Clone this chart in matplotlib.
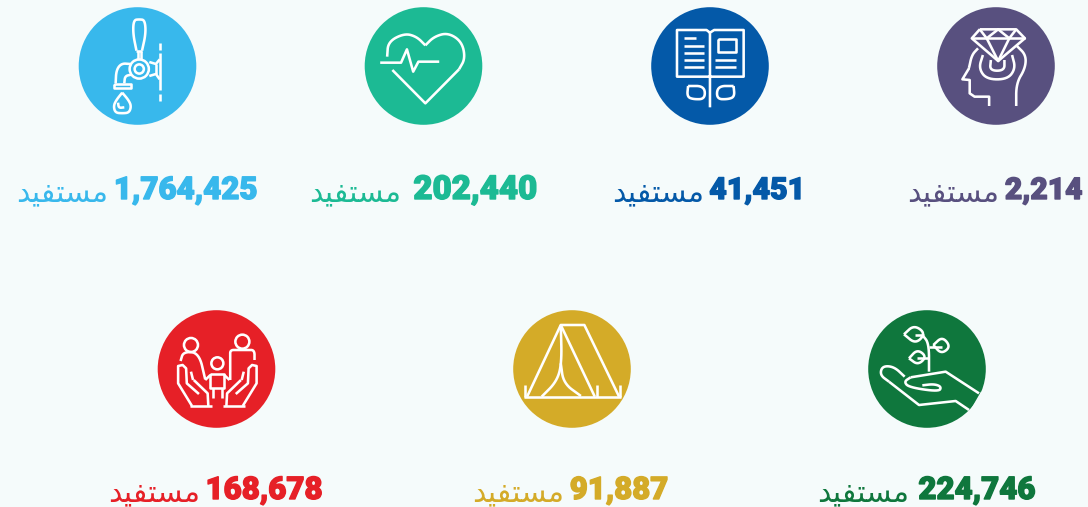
import matplotlib
matplotlib.use("Agg")
import matplotlib.pyplot as plt
import matplotlib.patheffects as pe
from matplotlib.patches import Circle

BG = "#F5FBFB"
WORD = "\uFEAA\uFEF4\uFED4\uFE98\uFEB4\uFEE3"  # mustafid, shaped and in visual order

values = ["1,764,425", "202,440", "41,451", "2,214", "168,678", "91,887", "224,746"]
colors = ["#38B8EC", "#1CBA94", "#0459A8", "#58507F", "#E62027", "#D4AB28", "#0F773D"]
circle_x = [137.5, 423.5, 710, 996, 216.5, 572, 927]
circle_y = [66, 66, 66, 66, 369, 369, 369]
word_left = [16.5, 309.5, 612.5, 907.5, 108.5, 472.5, 817.5]
value_right = [257, 537, 805, 1083, 322, 668, 1035]
value_size = [22.5, 23.8, 21.8, 21.6, 22.5, 22.4, 22.5]
baseline = [199, 199, 199, 199, 499, 499, 499]

fig = plt.figure(figsize=(10.88, 5.07), dpi=100, facecolor=BG)
ax = fig.add_axes([0, 0, 1, 1])
ax.set_xlim(0, 1088)
ax.set_ylim(507, 0)
ax.axis("off")


def smooth(pts, n=3):
    for _ in range(n):
        new = [pts[0]]
        for a, b in zip(pts[:-1], pts[1:]):
            new.append((0.75 * a[0] + 0.25 * b[0], 0.75 * a[1] + 0.25 * b[1]))
            new.append((0.25 * a[0] + 0.75 * b[0], 0.25 * a[1] + 0.75 * b[1]))
        new.append(pts[-1])
        pts = new
    return pts


def draw(lines, rings, ox, oy, sx, sy):
    for ln in lines:
        curved = ln[0] == "c"
        pts = ln[1:] if curved else ln
        if curved:
            pts = smooth(pts)
        ax.plot([ox + p[0] / sx for p in pts], [oy + p[1] / sy for p in pts],
                color="white", lw=1.85, solid_capstyle="butt", solid_joinstyle="round", zorder=3)
    for cx, cy, r in rings:
        ax.add_patch(Circle((ox + cx / sx, oy + cy / sy), r, fill=False, ec="white", lw=1.85, zorder=3))


tap = [
    ["c", (393, 152), (383, 100), (385, 60), (401, 58), (417, 60), (420, 100), (409, 152)],
    [(393, 152), (409, 152)],
    [(396, 152), (396, 180)], [(407, 152), (407, 180)],
    [(460, 130), (460, 150)], [(460, 160), (460, 270)], [(460, 282), (460, 302)],
    [(430, 186), (449, 192), (460, 178)], [(430, 228), (449, 222), (460, 238)], [(449, 192), (449, 222)],
    ["c", (375, 192), (350, 190), (335, 210), (333, 250)],
    ["c", (378, 224), (360, 228), (358, 250)],
    [(328, 251), (378, 251), (378, 264), (328, 264), (328, 251)],
    ["c", (352, 278), (335, 300), (327, 318), (332, 338), (352, 340), (372, 338), (378, 318), (370, 300), (352, 278)],
    ["c", (340, 308), (342, 324), (358, 322)],
]
heart = [
    ["c", (1115, 170), (1118, 125), (1165, 100), (1200, 110), (1225, 136)],
    ["c", (1225, 136), (1250, 110), (1290, 98), (1330, 125), (1340, 175), (1322, 208)],
    [(1322, 208), (1225, 310), (1130, 210)],
    [(1095, 188), (1155, 188), (1172, 148), (1190, 215), (1205, 185), (1265, 185)],
]
book = [
    [(478, 98), (468, 90), (383, 90), (383, 230), (575, 230), (575, 90), (490, 90), (478, 98), (478, 322)],
    [(403, 115), (438, 115)], [(403, 137), (462, 137)], [(403, 158), (462, 158)],
    [(403, 180), (462, 180)], [(403, 201), (462, 201)],
    [(500, 118), (552, 118), (552, 155), (500, 155), (500, 118)],
    [(492, 180), (553, 180)], [(492, 201), (553, 201)],
    ["c", (415, 258), (462, 258), (464, 297), (430, 298), (412, 290), (415, 258)],
    ["c", (546, 258), (500, 258), (497, 297), (530, 298), (549, 290), (546, 258)],
]
head = [
    [(1255, 88), (1360, 88), (1385, 115), (1308, 183), (1232, 115), (1255, 88)],
    [(1232, 115), (1385, 115)],
    [(1255, 88), (1275, 115), (1308, 88), (1340, 115), (1360, 88)],
    [(1275, 115), (1308, 183), (1340, 115)],
    ["c", (1250, 145), (1232, 165), (1224, 205), (1222, 205)],
    [(1224, 205), (1205, 238), (1226, 240), (1226, 280), (1240, 290), (1282, 290), (1282, 318)],
    ["c", (1360, 318), (1360, 250), (1386, 205), (1388, 165), (1362, 138)],
    ["c", (1264, 165), (1252, 205), (1275, 238), (1335, 238), (1358, 205), (1348, 165)],
    ["c", (1287, 180), (1284, 212), (1326, 212), (1326, 180)],
]
hand_l = [
    [(258, 318), (322, 318)],
    [(312, 318), (310, 280), (270, 240)],
    [(265, 318), (225, 250), (225, 198), (238, 195), (248, 205), (250, 250), (285, 282)],
    [(262, 215), (268, 240)],
]
hand_r = [[(676 - p[0], p[1]) for p in ln] for ln in hand_l]
family = hand_l + hand_r + [
    ["c", (232, 183), (240, 155), (285, 158), (303, 238)],
    ["c", (375, 240), (375, 170), (375, 150), (395, 150), (425, 150), (445, 150), (445, 180)],
    [(318, 223), (358, 223), (358, 265), (318, 265), (318, 223)],
    [(303, 240), (318, 225)], [(373, 240), (358, 225)],
    [(325, 265), (325, 295)], [(352, 265), (352, 295)],
]
family_rings = [(262, 135, 7), (410, 125, 7), (338, 190, 6)]
tent = [
    [(1230, 290), (1327, 75), (1395, 75), (1495, 290)],
    [(1327, 75), (1425, 290)],
    [(1222, 290), (1500, 290)],
    [(1224, 255), (1224, 290)], [(1430, 255), (1430, 290)], [(1497, 255), (1497, 290)],
    ["c", (1327, 75), (1330, 190), (1315, 245), (1272, 290)],
    ["c", (1327, 190), (1335, 250), (1385, 288)],
]
plant = [
    [(1005, 280), (905, 215), (800, 232)],
    ["c", (800, 232), (780, 245), (795, 262), (885, 275), (892, 260), (870, 252), (835, 256)],
    ["c", (782, 230), (750, 200), (715, 198), (708, 225), (735, 245)],
    [(735, 245), (825, 315), (935, 303), (975, 330)],
    ["c", (855, 215), (855, 130), (835, 105)],
    ["c", (780, 103), (810, 75), (845, 100), (815, 132), (780, 103)],
    ["c", (868, 135), (895, 110), (920, 140), (892, 162), (868, 135)],
    ["c", (795, 175), (820, 148), (848, 170), (822, 195), (795, 175)],
    [(812, 105), (840, 105)], [(855, 140), (895, 140)], [(820, 173), (855, 173)],
]

for x, y, c in zip(circle_x, circle_y, colors):
    ax.add_patch(Circle((x, y), 58.8, fc=c, ec="none", zorder=2))

draw(tap, [(401, 207, 9.6), (401, 207, 4.6)], 0, 0, 2.88, 3)
draw(heart, [], 0, 0, 2.88, 3)
draw(book, [], 544, 0, 2.88, 3)
draw(head, [], 544, 0, 2.88, 3)
draw(family, family_rings, 100, 300, 2.88, 3)
draw(tent, [], 100, 300, 2.88, 3)
draw(plant, [], 644, 300, 3, 3)
# background coloured nick where the wrist leaves the green circle
ax.plot([644 + 1012 / 3, 644 + 985 / 3], [300 + 278 / 3, 300 + 325 / 3], color=BG, lw=1.2, zorder=4)

for i in range(len(values)):
    ax.text(value_right[i], baseline[i], values[i], color=colors[i], ha="right", va="baseline",
            fontsize=value_size[i], family="Roboto", fontweight="black",
            path_effects=[pe.withStroke(linewidth=1.0, foreground=colors[i])])
    ax.text(word_left[i], baseline[i] + 2, WORD, color=colors[i], ha="left", va="baseline",
            fontsize=21.5, family="DejaVu Sans", fontweight="normal")

fig.savefig("out.png", dpi=100, facecolor=BG)
